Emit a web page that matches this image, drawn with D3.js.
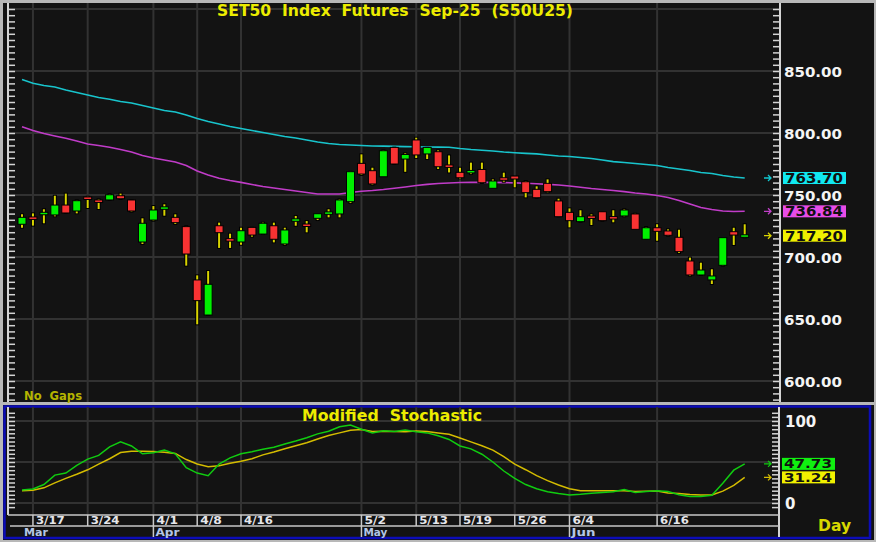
<!DOCTYPE html>
<html><head><meta charset="utf-8">
<script src="https://cdn.jsdelivr.net/npm/d3@7"></script>
<style>
html,body{margin:0;padding:0;background:#b8b8b8;}
svg{display:block;}
text{font-family:"DejaVu Sans",Verdana,sans-serif;font-weight:bold;white-space:pre;}
</style></head><body>
<svg id="chart" width="876" height="542"></svg>
<script>
// ---------------- DATA ----------------
const dates=["3/14","3/17","3/18","3/19","3/20","3/21","3/24","3/25","3/26","3/27","3/28","3/31",
"4/1","4/2","4/3","4/4","4/8","4/9","4/10","4/11","4/16","4/17","4/18","4/21","4/22","4/23","4/24","4/25","4/28","4/29","4/30",
"5/2","5/6","5/7","5/8","5/9","5/13","5/14","5/15","5/16","5/19","5/20","5/21","5/22","5/23","5/26","5/27","5/28","5/29","5/30",
"6/4","6/5","6/6","6/9","6/10","6/11","6/12","6/13","6/16","6/17","6/18","6/19","6/20","6/23","6/24","6/25","6/26"];
const openP=[726.4,731.8,734.1,733.9,741.9,737.1,747.8,745.4,746.0,749.4,746.0,712.1,729.8,738.9,732.0,724.5,681.5,653.2,725.2,714.5,
712.1,723.9,718.5,725.2,710.5,729.4,726.0,731.2,735.0,734.7,744.6,775.5,769.6,764.7,788.4,779.0,794.4,783.1,784.9,774.2,
768.3,768.4,770.6,755.4,763.7,765.3,760.7,754.6,759.4,745.2,736.0,728.5,732.5,736.5,732.0,733.1,734.7,714.3,723.6,721.0,
715.9,696.8,685.5,681.5,693.3,720.4,716.6];
const highP=[735.2,736.0,739.3,750.2,751.9,746.5,749.4,747.3,751.4,751.9,746.5,732.0,741.9,743.3,735.2,725.6,686.0,689.5,728.5,719.6,
724.4,724.4,728.5,728.5,724.4,733.9,729.8,735.2,739.3,747.3,769.6,783.6,772.8,786.8,789.0,784.4,797.0,788.8,786.8,782.7,
772.8,776.9,776.9,763.4,768.8,765.5,762.1,757.8,763.4,747.8,740.0,738.5,735.2,737.1,738.5,739.3,735.7,725.0,727.2,723.1,
722.8,700.3,696.2,690.9,715.9,724.4,727.2];
const lowP=[722.8,724.5,726.4,732.0,734.8,734.4,738.7,737.9,745.4,746.0,735.8,709.7,728.5,732.5,725.8,692.2,644.9,652.4,706.5,706.5,
709.1,715.6,717.7,711.0,708.9,724.4,719.1,729.0,731.2,731.2,742.7,765.3,757.5,764.7,774.2,767.9,779.0,778.2,770.2,767.4,
762.6,766.1,758.9,755.4,759.9,755.4,747.3,747.0,751.4,732.0,723.1,727.7,725.0,728.5,727.2,732.0,722.0,713.7,712.3,716.4,
702.4,684.1,684.7,677.4,692.2,708.9,715.1];
const closeP=[732.0,730.8,736.0,741.9,735.5,745.4,747.0,744.6,750.2,747.0,737.1,727.2,737.9,740.0,727.7,702.4,664.8,678.0,719.6,713.1,
721.2,717.7,727.2,714.3,721.8,730.2,725.2,734.9,735.8,746.0,768.8,766.9,758.9,785.7,775.0,782.7,782.3,788.4,772.8,772.3,
763.9,769.2,759.9,761.3,762.1,762.9,751.9,747.8,752.7,732.5,729.3,732.5,731.7,729.3,731.2,737.9,722.3,723.6,720.7,717.5,
704.3,685.5,689.5,684.7,715.6,717.7,717.2];
const maLong=[843.1,840.1,838.3,837.1,834.7,832.7,830.6,828.6,827.2,825.4,824.2,822.2,820.2,818.1,816.9,814.5,811.7,809.3,807.3,805.2,
803.6,802.0,800.4,798.8,797.2,796.0,794.4,792.7,791.5,790.7,790.3,789.9,789.5,789.4,789.2,789.0,788.9,788.7,788.6,788.5,
787.5,786.7,786.1,785.5,784.7,784.1,783.6,783.2,782.3,781.5,781.0,780.2,779.4,778.2,776.9,776.2,775.4,774.6,773.8,772.2,
771.0,769.8,768.1,767.3,765.7,764.5,763.70];
const maMid=[805.1,802.0,799.6,797.6,795.7,793.5,791.1,789.9,788.5,786.7,784.7,781.9,779.8,778.2,776.6,773.8,769.4,766.1,763.5,761.7,
760.2,758.5,756.9,755.6,754.4,753.2,752.0,750.8,750.8,750.8,752.0,753.0,753.6,754.4,755.4,756.5,757.7,758.6,759.3,759.7,
760.1,760.2,760.2,760.2,760.0,759.8,759.5,759.1,758.6,758.1,757.3,756.3,755.2,754.4,753.6,752.7,751.6,750.8,749.6,748.0,
745.6,742.7,739.9,738.3,737.1,736.7,736.84];
const stochK=[16,17,22.5,34,36.5,46,53.5,58,68.5,74.5,69.5,60,61.4,64.5,60,43,36.5,33.3,47.5,55,
60,62.5,65.5,68,72,75.5,79.5,84.3,87.5,93,95,90,85.5,88,87.3,89,87,85.5,82,77.5,
69.5,66,59.5,50,39,30,22.5,17.3,13.8,11.5,9.8,10.6,12,12.8,13.8,16.5,12.8,14,15,14,
10,8,7.8,9.5,24,40,47.73];
const stochD=[15,15.5,18.5,24.5,30,35,40.5,47.5,54,61.5,63.2,63.2,62.7,62,60.5,53,47.5,44.2,45.5,48.5,
51,54,58.7,62.2,66.2,69.8,73.5,78,82.3,85.5,88.7,89.7,87.2,87.4,87.2,87,87.8,87.3,85.5,83.8,
79.2,74.5,69.9,64.5,56.5,47.3,40.6,33.4,27.3,22,17.5,15,15,15,15,15,13.9,14.3,14.6,12.2,
11.5,10.3,9.8,9.8,14.5,21.5,31.24];
const priceTicks=[600,650,700,750,800,850];
const priceGrid=[600,650,700,750,800,850,900];
const stochTicks=[0,100];
const stochGrid=[0,50,100];
const dateTicks=["3/17","3/24","4/1","4/8","4/16","5/2","5/13","5/19","5/26","6/4","6/16"];
const monthNames=["Mar","Apr","May","Jun"];
const monthStarts=["3/14","4/1","5/2","6/4"];
const titleText="SET50  Index  Futures  Sep-25  (S50U25)";
const subTitleText="Modified  Stochastic";

// ---------------- LAYOUT ----------------
const svg=d3.select("#chart");
const P={x0:8,x1:780,y0:3,y1:402};
const S={x0:8,x1:780,y0:407,y1:515};
const BG="#131313", GRID="#323232", AXIS="#d4d4d4";

const x=d3.scalePoint().domain(dates).range([22,744.7]);
const yP=d3.scaleLinear().domain([600,850]).range([381,71]);
const yS=d3.scaleLinear().domain([0,100]).range([503,421]);

// backgrounds
svg.append("rect").attr("x",0).attr("y",0).attr("width",876).attr("height",542).attr("fill","#b8b8b8");
svg.append("rect").attr("x",3).attr("y",3).attr("width",871).attr("height",399).attr("fill",BG);
svg.append("rect").attr("x",3).attr("y",405).attr("width",871).attr("height",135).attr("fill",BG);
svg.append("rect").attr("x",4.5).attr("y",406.5).attr("width",865.5).attr("height",131.5)
  .attr("fill","none").attr("stroke","#0c0cb8").attr("stroke-width",2.5);

const defs=svg.append("defs");
defs.append("clipPath").attr("id","clipP").append("rect").attr("x",P.x0).attr("y",P.y0).attr("width",P.x1-P.x0).attr("height",P.y1-P.y0);
defs.append("clipPath").attr("id","clipS").append("rect").attr("x",S.x0).attr("y",S.y0).attr("width",S.x1-S.x0).attr("height",S.y1-S.y0);

// ---------- price pane grid ----------
const gP=svg.append("g").attr("clip-path","url(#clipP)");
gP.selectAll(".hg").data(priceGrid).join("line")
  .attr("x1",P.x0).attr("x2",P.x1).attr("y1",d=>yP(d)).attr("y2",d=>yP(d))
  .attr("stroke",GRID).attr("stroke-width",2);
gP.selectAll(".vg").data(dateTicks).join("line")
  .attr("x1",d=>x(d)).attr("x2",d=>x(d)).attr("y1",P.y0).attr("y2",P.y1)
  .attr("stroke",GRID).attr("stroke-width",2);

// moving averages
const lineP=d3.line().x((d,i)=>x(dates[i])).y(d=>yP(d));
gP.append("path").datum(maLong).attr("d",lineP).attr("fill","none").attr("stroke","#18c4cc").attr("stroke-width",1.6);
gP.append("path").datum(maMid).attr("d",lineP).attr("fill","none").attr("stroke","#c03cc8").attr("stroke-width",1.6);

// candles
const candles=gP.selectAll(".c").data(dates).join("g");
candles.append("line").attr("x1",d=>x(d)).attr("x2",d=>x(d))
  .attr("y1",(d,i)=>yP(highP[i])).attr("y2",(d,i)=>yP(lowP[i]))
  .attr("stroke","#000").attr("stroke-width",4);
candles.append("line").attr("x1",d=>x(d)).attr("x2",d=>x(d))
  .attr("y1",(d,i)=>yP(highP[i])+1).attr("y2",(d,i)=>yP(lowP[i])-1)
  .attr("stroke","#d8d400").attr("stroke-width",2);
candles.append("rect")
  .attr("x",d=>x(d)-4).attr("width",8)
  .attr("y",(d,i)=>{const t=yP(Math.max(openP[i],closeP[i]));const h=Math.abs(yP(openP[i])-yP(closeP[i]));return h<2.5?t-(2.5-h)/2:t;})
  .attr("height",(d,i)=>Math.max(2.5,Math.abs(yP(openP[i])-yP(closeP[i]))))
  .attr("fill",(d,i)=>closeP[i]>=openP[i]?"#00f000":"#f83232")
  .attr("stroke","#000").attr("stroke-width",1);

// price axes
svg.append("line").attr("x1",P.x0).attr("x2",P.x0).attr("y1",P.y0).attr("y2",P.y1).attr("stroke",AXIS).attr("stroke-width",2);
svg.append("line").attr("x1",P.x1).attr("x2",P.x1).attr("y1",P.y0).attr("y2",P.y1).attr("stroke",AXIS).attr("stroke-width",2);
const minorP=d3.range(560,905,5).filter(v=>yP(v)>5&&yP(v)<400);
const axL=svg.append("g").attr("transform",`translate(${P.x0+1},0)`)
  .call(d3.axisRight(yP).tickValues(minorP).tickSize(6).tickFormat(""));
const axR=svg.append("g").attr("transform",`translate(${P.x1-1},0)`)
  .call(d3.axisLeft(yP).tickValues(minorP).tickSize(6).tickFormat(""));
[axL,axR].forEach(a=>{a.select(".domain").remove();a.selectAll("line").attr("stroke",AXIS).attr("stroke-width",1.5);});
const axLab=svg.append("g").attr("transform",`translate(${P.x1+4},0)`)
  .call(d3.axisRight(yP).tickValues(priceTicks).tickSize(0).tickPadding(0).tickFormat(d3.format(".2f")));
axLab.select(".domain").remove();
axLab.selectAll("text").attr("fill","#f4f4f4").attr("font-size",14).attr("font-family","DejaVu Sans")
  .attr("font-weight","bold").attr("dy","0.36em").attr("textLength",58).attr("lengthAdjust","spacingAndGlyphs");

// value boxes
function valueBox(yv,label,color,arrowColor,bx,bw,fs,tl){
  svg.append("rect").attr("x",bx).attr("y",yv-6).attr("width",bw).attr("height",12).attr("fill",color);
  svg.append("text").attr("x",bx+2).attr("y",yv).attr("dy","0.36em").attr("font-size",fs).attr("fill","#101010")
    .attr("textLength",tl).attr("lengthAdjust","spacingAndGlyphs").text(label);
  svg.append("path").attr("d",`M764,${yv} L771,${yv} M768,${yv-3} L771,${yv} L768,${yv+3}`)
    .attr("stroke",arrowColor).attr("stroke-width",1.3).attr("fill","none");
}
valueBox(yP(maLong[maLong.length-1]),d3.format(".2f")(maLong[maLong.length-1]),"#10e8f0","#10c8d0",783,63,14,58);
valueBox(yP(maMid[maMid.length-1]),d3.format(".2f")(maMid[maMid.length-1]),"#e84ce8","#c040c8",783,63,14,58);
valueBox(yP(closeP[closeP.length-1]),d3.format(".2f")(closeP[closeP.length-1]),"#f0f000","#d8d400",783,63,14,58);

// titles
svg.append("text").attr("x",217).attr("y",11).attr("dy","0.36em").attr("font-size",15)
  .attr("textLength",356).attr("lengthAdjust","spacingAndGlyphs").attr("fill","#ecec00").text(titleText);
svg.append("text").attr("x",24).attr("y",396).attr("dy","0.36em").attr("font-size",12)
  .attr("textLength",58).attr("lengthAdjust","spacingAndGlyphs").attr("fill","#b4b400").text("No  Gaps");

// ---------- stochastic pane ----------
const gS=svg.append("g").attr("clip-path","url(#clipS)");
gS.selectAll(".hg").data(stochGrid).join("line")
  .attr("x1",S.x0).attr("x2",S.x1).attr("y1",d=>yS(d)).attr("y2",d=>yS(d))
  .attr("stroke",GRID).attr("stroke-width",2);
gS.selectAll(".vg").data(dateTicks).join("line")
  .attr("x1",d=>x(d)).attr("x2",d=>x(d)).attr("y1",S.y0).attr("y2",S.y1)
  .attr("stroke",GRID).attr("stroke-width",2);
const lineS=d3.line().x((d,i)=>x(dates[i])).y(d=>yS(d));
gS.append("path").datum(stochD).attr("d",lineS).attr("fill","none").attr("stroke","#d4bc00").attr("stroke-width",1.5);
gS.append("path").datum(stochK).attr("d",lineS).attr("fill","none").attr("stroke","#10cc10").attr("stroke-width",1.5);

svg.append("text").attr("x",302).attr("y",416).attr("dy","0.36em").attr("font-size",15)
  .attr("textLength",180).attr("lengthAdjust","spacingAndGlyphs").attr("fill","#ecec00").text(subTitleText);

// stochastic axes
svg.append("line").attr("x1",S.x0).attr("x2",S.x0).attr("y1",S.y0).attr("y2",S.y1).attr("stroke",AXIS).attr("stroke-width",2);
svg.append("line").attr("x1",S.x1-1).attr("x2",S.x1-1).attr("y1",S.y0).attr("y2",537).attr("stroke",AXIS).attr("stroke-width",2);
const minorS=d3.range(-5,115,5).filter(v=>yS(v)>409&&yS(v)<512);
const sL=svg.append("g").attr("transform",`translate(${S.x0+1},0)`)
  .call(d3.axisRight(yS).tickValues(minorS).tickSize(6).tickFormat(""));
const sR=svg.append("g").attr("transform",`translate(${S.x1-2},0)`)
  .call(d3.axisLeft(yS).tickValues(minorS).tickSize(6).tickFormat(""));
[sL,sR].forEach(a=>{a.select(".domain").remove();a.selectAll("line").attr("stroke",AXIS).attr("stroke-width",1.5);});
const sLab=svg.append("g").attr("transform",`translate(${S.x1+5},0)`)
  .call(d3.axisRight(yS).tickValues(stochTicks).tickSize(0).tickPadding(0).tickFormat(d3.format("d")));
sLab.select(".domain").remove();
sLab.selectAll("text").attr("fill","#f4f4f4").attr("font-size",15).attr("font-family","DejaVu Sans")
  .attr("font-weight","bold").attr("dy","0.36em");

valueBox(yS(stochK[stochK.length-1]),d3.format(".2f")(stochK[stochK.length-1]),"#10f010","#10cc10",782,53,11.5,48);
valueBox(yS(stochD[stochD.length-1]),d3.format(".2f")(stochD[stochD.length-1]),"#f0f000","#d4bc00",782,53,11.5,48);

// date axis rows
svg.append("line").attr("x1",S.x0).attr("x2",S.x1-1).attr("y1",515).attr("y2",515).attr("stroke","#c8c8c8").attr("stroke-width",1.5);
svg.append("line").attr("x1",10).attr("x2",S.x1-1).attr("y1",526).attr("y2",526).attr("stroke","#c8c8c8").attr("stroke-width",1.5);
svg.selectAll(".dsep").data(dateTicks).join("line")
  .attr("x1",d=>x(d)).attr("x2",d=>x(d)).attr("y1",515).attr("y2",526).attr("stroke","#c8c8c8").attr("stroke-width",1.5);
svg.selectAll(".dlab").data(dateTicks).join("text")
  .attr("x",d=>x(d)+3).attr("y",520.5).attr("dy","0.36em").attr("font-size",11).attr("fill","#e6e6ea")
  .attr("textLength",d=>d.length*7.2).attr("lengthAdjust","spacingAndGlyphs").text(d=>d);
svg.selectAll(".msep").data(monthStarts.slice(1)).join("line")
  .attr("x1",d=>x(d)).attr("x2",d=>x(d)).attr("y1",526).attr("y2",537).attr("stroke","#c8c8c8").attr("stroke-width",1.5);
svg.selectAll(".mlab").data(monthNames).join("text")
  .attr("x",(d,i)=>x(monthStarts[i])+2).attr("y",532).attr("dy","0.36em").attr("font-size",11).attr("fill","#b4c6e6")
  .attr("textLength",24).attr("lengthAdjust","spacingAndGlyphs").text(d=>d);

svg.append("text").attr("x",818).attr("y",526).attr("dy","0.36em").attr("font-size",15)
  .attr("textLength",33).attr("lengthAdjust","spacingAndGlyphs").attr("fill","#d8d800").text("Day");
</script>
</body></html>
